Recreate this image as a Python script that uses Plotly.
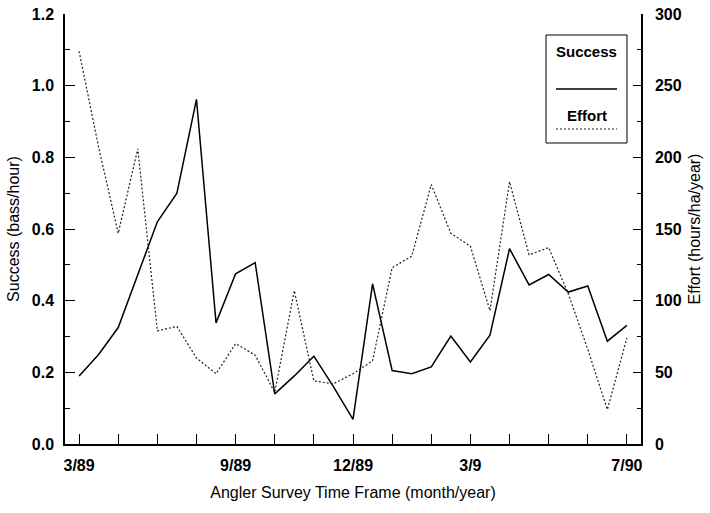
import plotly.graph_objects as go

# Survey period index (29 sampling periods, 3/89 .. 7/90)
period = list(range(29))

success = [0.19, 0.25, 0.325, 0.47, 0.62, 0.70, 0.962, 0.338, 0.475, 0.506,
           0.14, 0.19, 0.245, 0.16, 0.069, 0.447, 0.205, 0.196, 0.215, 0.301,
           0.229, 0.304, 0.545, 0.444, 0.473, 0.424, 0.441, 0.287, 0.331]

effort = [274, 207, 147, 206, 79, 82, 60, 49, 70, 62,
          36, 107, 44, 42, 49, 58, 123, 131, 181, 147,
          138, 93, 183, 132, 137, 105, 66, 24, 74]

x_tick_vals = list(range(0, 29, 2))
x_tick_text = ["3/89", "", "", "", "9/89", "", "", "12/89", "", "", "3/9",
               "", "", "", "7/90"]

FONT = "Liberation Sans"
DOT = "2px,2px"

fig = go.Figure()
fig.add_trace(go.Scatter(x=period, y=success, mode="lines", name="Success",
                         line=dict(color="black", width=1.5), yaxis="y"))
fig.add_trace(go.Scatter(x=period, y=effort, mode="lines", name="Effort",
                         line=dict(color="#222222", width=1.2, dash=DOT), yaxis="y2"))

# plot-area geometry in pixels -> paper helpers for legend box
L, R, T, B = 65, 69, 14, 69
W, H = 710, 513
pw, ph = W - L - R, H - T - B
def px(xp):
    return (xp - L) / pw
def py(yp):
    return (H - B - yp) / ph

shapes = [
    dict(type="rect", xref="paper", yref="paper", x0=px(546), x1=px(627),
         y0=py(143), y1=py(35), line=dict(color="black", width=1), fillcolor="white"),
    dict(type="line", xref="paper", yref="paper", x0=px(556), x1=px(617),
         y0=py(89), y1=py(89), line=dict(color="black", width=1.5)),
    dict(type="line", xref="paper", yref="paper", x0=px(556), x1=px(617),
         y0=py(129), y1=py(129), line=dict(color="#222222", width=1.2, dash=DOT)),
]
annotations = [
    dict(text="Success", xref="paper", yref="paper", x=px(586.5), y=py(52),
         xanchor="center", yanchor="middle", showarrow=False,
         font=dict(family=FONT, size=15, color="black", weight="bold")),
    dict(text="Effort", xref="paper", yref="paper", x=px(586.5), y=py(115),
         xanchor="center", yanchor="middle", showarrow=False,
         font=dict(family=FONT, size=15, color="black", weight="bold")),
]

tickfont = dict(family=FONT, size=16, color="black", weight="bold")
titlefont = dict(family=FONT, size=16, color="black")

fig.update_layout(
    width=W, height=H,
    margin=dict(l=L, r=R, t=T, b=B, autoexpand=False),
    paper_bgcolor="white", plot_bgcolor="white",
    showlegend=False,
    shapes=shapes, annotations=annotations,
    xaxis=dict(range=[-0.72, 28.72], tickvals=x_tick_vals, ticktext=x_tick_text,
               ticks="inside", ticklen=10, tickwidth=1, tickcolor="black",
               showline=True, linecolor="black", linewidth=1.5,
               showgrid=False, zeroline=False, tickfont=tickfont,
               automargin=False, ticklabelstandoff=6,
               title=dict(text="Angler Survey Time Frame (month/year)", font=titlefont,
                          standoff=14)),
    yaxis=dict(range=[0, 1.2], dtick=0.2, tickformat=".1f",
               ticks="inside", ticklen=10, tickwidth=1, tickcolor="black",
               minor=dict(dtick=0.1, ticks="inside", ticklen=5, tickcolor="black", tickwidth=1),
               showline=True, linecolor="black", linewidth=1.5,
               showgrid=False, zeroline=False, tickfont=tickfont,
               automargin=False, ticklabelstandoff=6,
               title=dict(text="Success (bass/hour)", font=titlefont, standoff=8)),
    yaxis2=dict(range=[0, 300], dtick=50, overlaying="y", side="right",
                ticks="inside", ticklen=8, tickwidth=1, tickcolor="black",
                minor=dict(dtick=25, ticks="inside", ticklen=4, tickcolor="black", tickwidth=1),
                showline=True, linecolor="black", linewidth=1.5,
                showgrid=False, zeroline=False, tickfont=tickfont,
                automargin=False, ticklabelstandoff=9,
                title=dict(text="Effort (hours/ha/year)", font=titlefont, standoff=8)),
)

fig.write_html("out.html", config={"displayModeBar": False},
               post_script="document.body.style.margin='0';")
